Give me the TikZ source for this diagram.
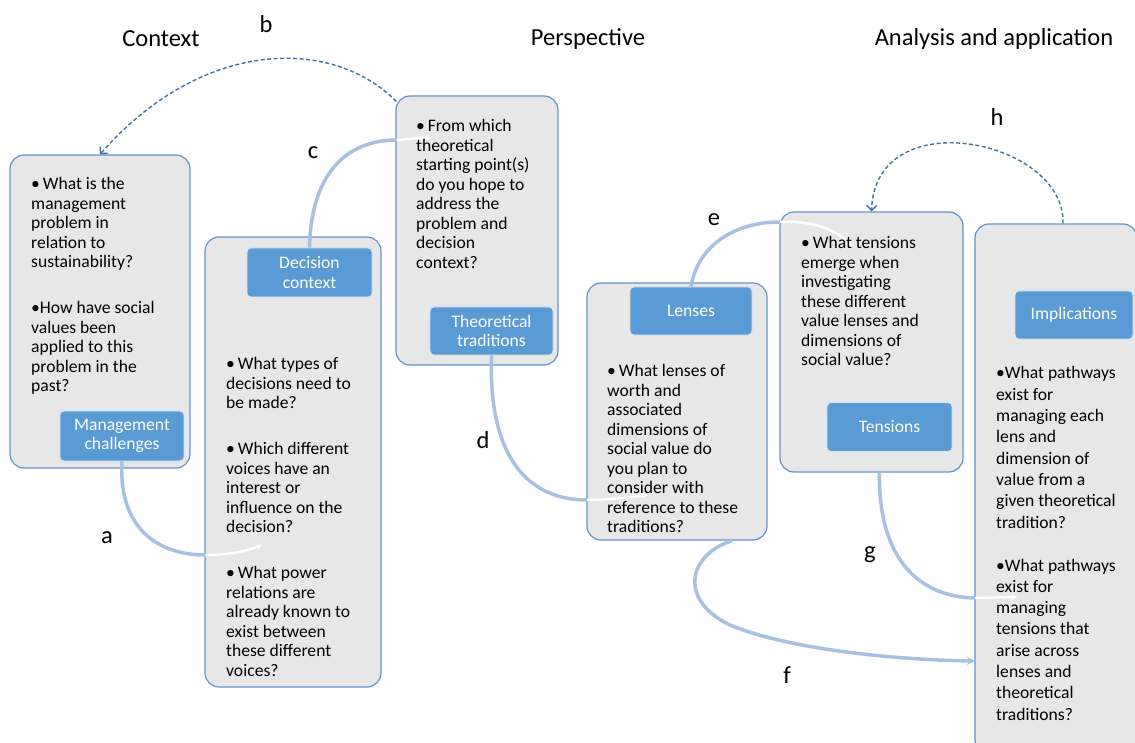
\documentclass[tikz,border=0pt]{standalone}
\usepackage{fontspec}
\setmainfont{Carlito}
\usetikzlibrary{calc,arrows.meta}

\definecolor{panelgray}{HTML}{E7E7E7}
\definecolor{edgeblue}{HTML}{6393CC}
\definecolor{tagblue}{HTML}{5B9BD5}
\definecolor{tagedge}{HTML}{DCE6F2}
\definecolor{linkblue}{HTML}{A7C1E0}
\definecolor{dashblue}{HTML}{41719C}
\newcommand{\qfont}{\fontsize{17.6}{19.5}\selectfont}

\begin{document}
\begin{tikzpicture}[x=1pt, y=-1pt,
  panel/.style={draw=edgeblue, line width=1.2pt, fill=panelgray, rounded corners=14pt},
  tag/.style={draw=tagedge, line width=0.8pt, fill=tagblue, rounded corners=4pt, text=white, align=center, font=\qfont},
  question/.style={anchor=north west, inner sep=0pt, align=left, font=\qfont},
  heading/.style={font=\fontsize{24.5}{28}\selectfont},
  link/.style={draw=linkblue, line width=3.5pt},
  tail/.style={draw=white, line width=2.5pt, -{Stealth[length=6pt,width=6pt]}},
  loopback/.style={draw=dashblue, line width=1.4pt, dash pattern=on 4pt off 2.5pt, -{Straight Barb[length=5pt,width=10pt]}}]

  \useasboundingbox (0,0) rectangle (1135,743);
  \clip (0,0) rectangle (1135,743);

  % Headings
  \node[heading] (ctxhead) at (161,39) {Context};
  \node[heading] (perhead) at (588,39) {Perspective};
  \node[heading] (anahead) at (994,39) {Analysis and application};

  % Panels
  \node[panel, minimum width=180, minimum height=313] (mgmt) at (100,311.5) {};
  \node[panel, minimum width=176, minimum height=450] (dec) at (293,462) {};
  \node[panel, minimum width=162, minimum height=269] (theory) at (477,230.5) {};
  \node[panel, minimum width=180, minimum height=257] (lenses) at (677,411.5) {};
  \node[panel, minimum width=183, minimum height=260] (tens) at (871.5,342) {};
  \node[panel, minimum width=162, minimum height=530] (impl) at (1056,489) {};

  % Tags
  \node[tag, minimum width=124, minimum height=50] (mlabel) at (122,436) {Management\\challenges};
  \node[tag, minimum width=125, minimum height=49] (dlabel) at (309.5,272.5) {Decision\\context};
  \node[tag, minimum width=123, minimum height=48] (tlabel) at (491.5,331) {Theoretical\\traditions};
  \node[tag, minimum width=122, minimum height=48] (llabel) at (691,311) {Lenses};
  \node[tag, minimum width=125, minimum height=49] (slabel) at (889.5,427) {Tensions};
  \node[tag, minimum width=118, minimum height=48] (ilabel) at (1074,315) {Implications};

  % Free ends of the links
  \coordinate (a1) at (205,555);
  \coordinate (a2) at (262,545);
  \coordinate (c1) at (397,140);
  \coordinate (c2) at (432,137);
  \coordinate (d1) at (587,500);
  \coordinate (d2) at (648,495);
  \coordinate (e1) at (780,222);
  \coordinate (e2) at (852,247);
  \coordinate (f1) at (975,661);
  \coordinate (g1) at (975,598);
  \coordinate (g2) at (1017,597);

  % Links
  \draw[link] (mlabel.south) .. controls (118,530) and (160,555) .. (a1);
  \draw[tail] (a1) .. controls (225,555) and (245,552) .. (a2);
  \draw[link] (dlabel.north) .. controls (311,175) and (345,140) .. (c1);
  \draw[tail] (c1) -- (c2);
  \draw[link] (tlabel.south) .. controls (488,460) and (530,500) .. (d1);
  \draw[tail] (d1) .. controls (610,500) and (630,497) .. (d2);
  \draw[link] (llabel.north) .. controls (698,245) and (735,222) .. (e1);
  \draw[tail] (e1) .. controls (815,220) and (840,232) .. (e2);
  \draw[link, -{Stealth[length=8pt,width=8pt]}] ($(lenses.south)+(55,0)$) .. controls (688,555) and (678,600) .. (730,625)
    .. controls (790,650) and (900,660) .. (f1);
  \draw[link] ($(tens.south)+(8,0)$) .. controls (878,560) and (920,597) .. (g1);
  \draw[tail] (g1) -- (g2);

  % Dashed loops
  \draw[loopback] ($(theory.north west)+(1,6)$) .. controls (330,35) and (200,40) .. (mgmt.north);
  \draw[loopback] ($(impl.north)+(7,0)$) .. controls (1066,140) and (875,100) .. (tens.north);

  % Link letters
  \node[heading] (ltra) at (107,538) {a};
  \node[heading] (ltrb) at (266,24) {b};
  \node[heading] (ltrc) at (313,153) {c};
  \node[heading] (ltrd) at (483,440) {d};
  \node[heading] (ltre) at (714,220) {e};
  \node[heading] (ltrf) at (787,675) {f};
  \node[heading] (ltrg) at (870,555) {g};
  \node[heading] (ltrh) at (997,117) {h};

  % Questions
  \node[question] (mgmtq) at (31,177.5) {\textbullet\,What is the\\management\\problem in\\relation to\\sustainability?\\[26.5pt]
    \textbullet How have social\\values been\\applied to this\\problem in the\\past?};
  \node[question] (decq) at (226,357.5) {\textbullet\,What types of\\decisions need to\\be made?\\[26.5pt]
    \textbullet\,Which different\\voices have an\\interest or\\influence on the\\decision?\\[26.5pt]
    \textbullet\,What power\\relations are\\already known to\\exist between\\these different\\voices?};
  \node[question] (theoryq) at (416,119.5) {\textbullet\,From which\\theoretical\\starting point(s)\\do you hope to\\address the\\problem and\\decision\\context?};
  \node[question] (lensesq) at (607,364.5) {\textbullet\,What lenses of\\worth and\\associated\\dimensions of\\social value do\\you plan to\\consider with\\reference to these\\traditions?};
  \node[question] (tensq) at (801,236.5) {\textbullet\,What tensions\\emerge when\\investigating\\these different\\value lenses and\\dimensions of\\social value?};
  \node[question, font=\fontsize{17.6}{21.3}\selectfont] (implq) at (996,366.5) {\textbullet What pathways\\exist for\\managing each\\lens and\\dimension of\\value from a\\given theoretical\\tradition?\\[21.7pt]
    \textbullet What pathways\\exist for\\managing\\tensions that\\arise across\\lenses and\\theoretical\\traditions?};

\end{tikzpicture}
\end{document}
